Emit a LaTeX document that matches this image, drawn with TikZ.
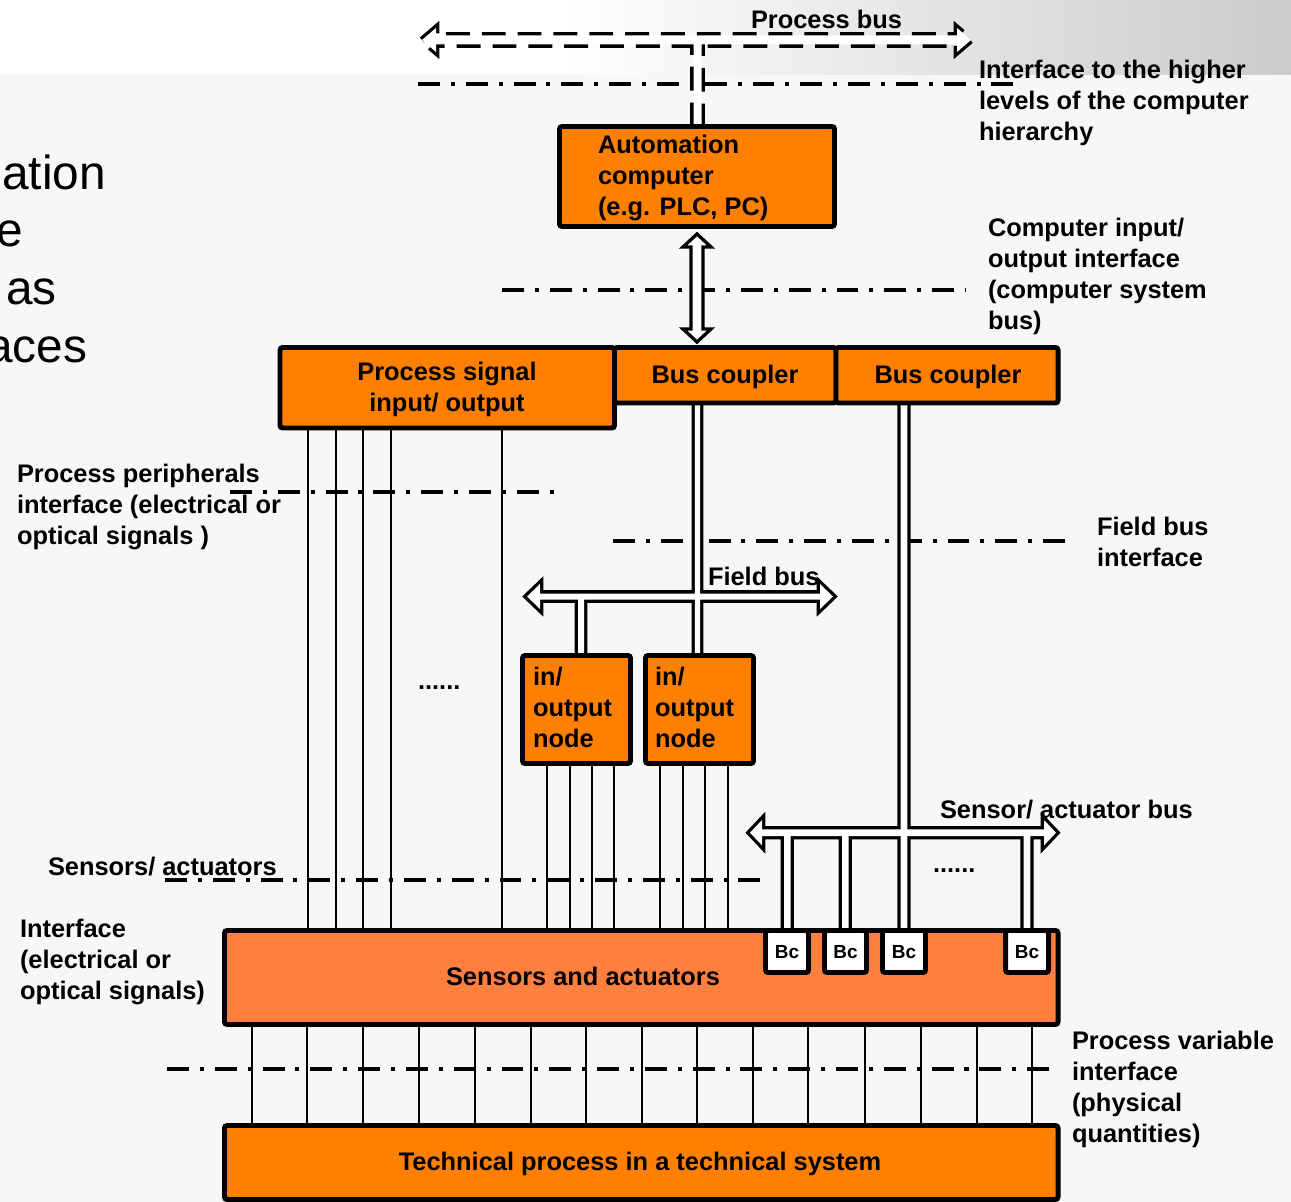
\documentclass[tikz,border=0pt]{standalone}
\usepackage{fontspec}
\setmainfont{Liberation Sans}
\usetikzlibrary{fit}

\definecolor{bgGray}{HTML}{F7F7F7}
\definecolor{bandGray}{HTML}{CBCBCB}
\definecolor{boxOrange}{HTML}{FF8000}
\definecolor{sensOrange}{HTML}{FF7F3F}

\pgfdeclarelayer{bglayer}
\pgfdeclarelayer{linelayer}
\pgfsetlayers{bglayer,linelayer,main}

% horizontal hollow double arrow: xL, xR, yc, half shaft, half head, head length
\newcommand\HollowH[6]{(#1,#3) -- ({#1+#6},{#3-#5}) -- ({#1+#6},{#3-#4}) -- ({#2-#6},{#3-#4}) -- ({#2-#6},{#3-#5}) -- (#2,#3) -- ({#2-#6},{#3+#5}) -- ({#2-#6},{#3+#4}) -- ({#1+#6},{#3+#4}) -- ({#1+#6},{#3+#5}) -- cycle }
% vertical hollow double arrow: xc, yTop, yBottom, half shaft, half head, head length
\newcommand\HollowV[6]{(#1,#2) -- ({#1+#5},{#2+#6}) -- ({#1+#4},{#2+#6}) -- ({#1+#4},{#3-#6}) -- ({#1+#5},{#3-#6}) -- (#1,#3) -- ({#1-#5},{#3-#6}) -- ({#1-#4},{#3-#6}) -- ({#1-#4},{#2+#6}) -- ({#1-#5},{#2+#6}) -- cycle }
% vertical hollow stem: xc, yTop, yBottom, half width
\newcommand\HollowStem[4]{({#1-#4},#2) -- ({#1+#4},#2) -- ({#1+#4},#3) -- ({#1-#4},#3) -- cycle }

\begin{document}
\begin{tikzpicture}[x=0.02cm,y=-0.02cm,
  wire/.style={line width=1.13pt},
  ifline/.style={line width=1.87pt, dash pattern=on 12.5pt off 6.2pt on 2.3pt off 6.2pt},
  hollowback/.style={line width=3.74pt, line join=miter},
  pbback/.style={hollowback, dash pattern=on 13.6pt off 6.8pt},
  dblarrow/.style={line width=1.87pt, fill=white, line join=miter},
  obox/.style={draw=black, line width=2.83pt, fill=boxOrange, rounded corners=1.5pt, inner sep=0pt, outer sep=0pt},
  bcbox/.style={obox, fill=white},
  lbl/.style={font=\bfseries\fontsize{14.46}{17.57}\selectfont, inner sep=0pt, outer sep=0pt},
  mlbl/.style={lbl, align=left, anchor=north west},
  bclbl/.style={font=\bfseries\fontsize{10.8}{13}\selectfont, inner sep=0pt, anchor=base},
  big/.style={font=\fontsize{27.2}{32.7}\selectfont, inner sep=0pt, anchor=base west}]

\useasboundingbox (0,0) rectangle (1291,1202);
\clip (0,0) rectangle (1291,1202);

% ---------- boxes ----------
\node[obox, fit={(559.5,126.5)(834.5,226.5)}] (comp) {};
\node[obox, fit={(280,347.5)(614.5,428)}] (psio) {};
\node[obox, fit={(614.5,347.5)(836,403)}] (cplA) {};
\node[obox, fit={(836,347.5)(1058,403)}] (cplB) {};
\node[obox, fit={(522.5,655.5)(630.5,763.5)}] (ioA) {};
\node[obox, fit={(645.5,655.5)(753.5,763.5)}] (ioB) {};
\node[obox, fill=sensOrange, fit={(224.5,930.5)(1058,1024.5)}] (sens) {};
\node[obox, fit={(224.5,1125.5)(1058,1199.5)}] (tech) {};
\node[bcbox, fit={(765.5,930.5)(808.5,972.5)}] (bcA) {};
\node[bcbox, fit={(824.5,930.5)(866.5,972.5)}] (bcB) {};
\node[bcbox, fit={(882.5,930.5)(925.5,972.5)}] (bcC) {};
\node[bcbox, fit={(1005.5,930.5)(1048.5,972.5)}] (bcD) {};

% ---------- background ----------
\begin{pgfonlayer}{bglayer}
  \fill[bgGray] (0,0) rectangle (1291,1202);
  \fill[white] (0,0) rectangle (1291,75);
  \shade[left color=white, right color=bandGray] (560,0) rectangle (1291,75);
\end{pgfonlayer}

% ---------- interface lines, wires and buses ----------
\begin{pgfonlayer}{linelayer}
  \draw[ifline] (418,84) -- (1015,84);
  \draw[ifline] (502,290) -- (965,290);
  \draw[ifline] (230,492) -- (560,492);
  \draw[ifline] (613,541) -- (1065,541);
  \draw[ifline] (165,880) -- (770,880);
  \draw[ifline] (167,1069) -- (1060,1069);

  \foreach \x in {308,336,363,391,502}{
    \coordinate (p) at (\x,0);
    \draw[wire] (p |- psio.south) -- (p |- sens.north);
  }
  \foreach \x in {547,570,592,614}{
    \coordinate (p) at (\x,0);
    \draw[wire] (p |- ioA.south) -- (p |- sens.north);
  }
  \foreach \x in {660,683,705,728}{
    \coordinate (p) at (\x,0);
    \draw[wire] (p |- ioB.south) -- (p |- sens.north);
  }
  \foreach \x in {252,307,363,419,475,531,586,642,697,753,808,865,921,977,1032}{
    \coordinate (p) at (\x,0);
    \draw[wire] (p |- sens.south) -- (p |- tech.north);
  }

  % process bus (dashed) with its drop to the automation computer
  \draw[pbback] \HollowH{422}{971}{40}{4.5}{12}{14} \HollowStem{697.5}{40}{129}{4};
  \fill[white] \HollowH{422}{971}{40}{4.5}{12}{14} \HollowStem{697.5}{40}{129}{4};

  % computer system bus
  \draw[dblarrow] \HollowV{697}{234}{342}{6}{14}{13};

  % field bus
  \draw[hollowback] \HollowH{527}{833}{596.5}{3}{12.5}{13} \HollowStem{697.5}{400}{658}{2.7} \HollowStem{581}{596.5}{658}{3};
  \fill[white] \HollowH{527}{833}{596.5}{3}{12.5}{13} \HollowStem{697.5}{400}{658}{2.7} \HollowStem{581}{596.5}{658}{3};

  % sensor / actuator bus
  \draw[hollowback] \HollowH{750}{1056}{832.7}{3.3}{12.7}{12} \HollowStem{904}{400}{933}{3.3} \HollowStem{787.3}{832.7}{933}{3.3} \HollowStem{845.3}{832.7}{933}{3.3} \HollowStem{1027}{832.7}{933}{3.3};
  \fill[white] \HollowH{750}{1056}{832.7}{3.3}{12.7}{12} \HollowStem{904}{400}{933}{3.3} \HollowStem{787.3}{832.7}{933}{3.3} \HollowStem{845.3}{832.7}{933}{3.3} \HollowStem{1027}{832.7}{933}{3.3};
\end{pgfonlayer}

% ---------- slide text on the left ----------
\node[big] (tA) at (2,190) {ation};
\node[big] (tB) at (-4,247) {e};
\node[big] (tC) at (6,305) {as};
\node[big] (tD) at (-14,363) {aces};

% ---------- labels ----------
\node[lbl, anchor=base west] (lPbus) at (751,29) {Process bus};
\node[mlbl] (lHier) at (979,57.3) {\strut Interface to the higher\\levels of the computer\\hierarchy};
\node[mlbl] (lComp) at (598,132.3) {\strut Automation\\computer\\(e.g. PLC, PC)};
\node[mlbl] (lCio) at (988,215.3) {\strut Computer input/\\output interface\\(computer system\\bus)};
\node[lbl, align=center, anchor=north] (lPsio) at (447,359.3) {\strut Process signal\\input/ output};
\node[lbl, anchor=base] (lCplA) at (725,384) {Bus coupler};
\node[lbl, anchor=base] (lCplB) at (948,384) {Bus coupler};
\node[mlbl] (lPeri) at (17,461.3) {\strut Process peripherals\\interface (electrical or\\optical signals )};
\node[mlbl] (lFbi) at (1097,514.3) {\strut Field bus\\interface};
\node[lbl, anchor=base west] (lFbus) at (708,585) {Field bus};
\node[mlbl] (lIoA) at (533,664.3) {\strut in/\\output\\node};
\node[mlbl] (lIoB) at (655,664.3) {\strut in/\\output\\node};
\node[lbl, anchor=base west] (lDotsA) at (418,689) {......};
\node[lbl, anchor=base west] (lSab) at (940,818) {Sensor/ actuator bus};
\node[lbl, anchor=base west] (lDotsB) at (933,872) {......};
\node[lbl, anchor=base west] (lSa) at (48,875) {Sensors/ actuators};
\node[mlbl] (lIf) at (20,916.3) {\strut Interface\\(electrical or\\optical signals)};
\node[lbl, anchor=base] (lSens) at (583,985) {Sensors and actuators};
\node[bclbl] at (bcA.center |- 0,958) (lBcA) {Bc};
\node[bclbl] at (bcB.center |- 0,958) (lBcB) {Bc};
\node[bclbl] at (bcC.center |- 0,958) (lBcC) {Bc};
\node[bclbl] at (bcD.center |- 0,958) (lBcD) {Bc};
\node[mlbl] (lPvi) at (1072,1028.3) {\strut Process variable\\interface\\(physical\\quantities)};
\node[lbl, anchor=base] (lTech) at (640,1170) {Technical process in a technical system};

\end{tikzpicture}
\end{document}
